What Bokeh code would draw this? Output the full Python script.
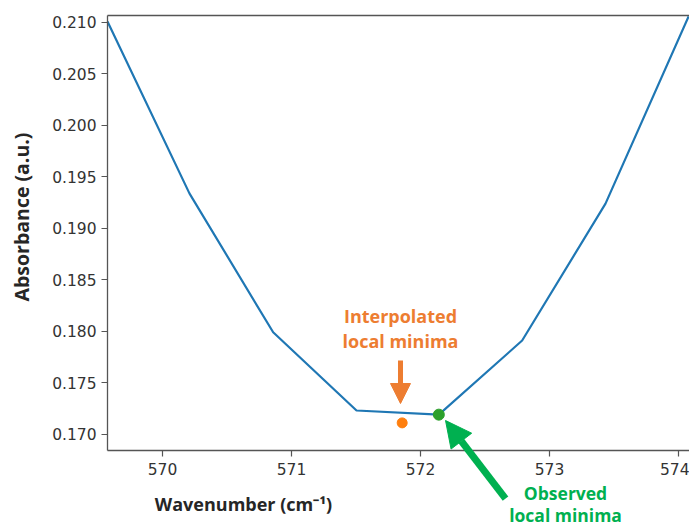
import math
from bokeh.plotting import figure
from bokeh.models import Range1d, Label, Arrow, NormalHead, FixedTicker, LinearAxis
from bokeh.embed import file_html
from bokeh.resources import INLINE

# ---- data ----
wavenumber = [569.574, 570.209, 570.858, 571.504, 572.142, 572.788, 573.434, 574.078]
absorbance = [0.2101, 0.1934, 0.1799, 0.1723, 0.1719, 0.1791, 0.1924, 0.2106]
interp_min_x = [571.858]
interp_min_y = [0.1711]
obs_min_x = [572.142]
obs_min_y = [0.1719]
x_ticks = [570, 571, 572, 573, 574]
y_ticks = [0.170, 0.175, 0.180, 0.185, 0.190, 0.195, 0.200, 0.205, 0.210]

# plotting-area limits (data)
XMIN, XMAX = 569.574, 574.085
YMIN, YMAX = 0.168416, 0.210680
# margins around the plotting area, in px
ML, MR, MT, MB = 107, 0, 15, 78
W, H = 689, 528
kx = (XMAX - XMIN) / (W - ML - MR)
ky = (YMAX - YMIN) / (H - MT - MB)

p = figure(width=W, height=H, output_backend="svg", toolbar_location=None,
           x_range=Range1d(XMIN - ML * kx, XMAX + MR * kx),
           y_range=Range1d(YMIN - MB * ky, YMAX + MT * ky),
           x_axis_location=None, y_axis_location=None,
           min_border=0)
p.outline_line_color = None
p.grid.visible = False
p.background_fill_color = "white"
p.border_fill_color = "white"

xax = LinearAxis(fixed_location=YMIN, bounds=(XMIN, XMAX), ticker=FixedTicker(ticks=x_ticks))
yax = LinearAxis(fixed_location=XMIN, bounds=(YMIN, YMAX), ticker=FixedTicker(ticks=y_ticks))
tax = LinearAxis(fixed_location=YMAX, bounds=(XMIN, XMAX), ticker=FixedTicker(ticks=[]))
for ax in (xax, yax, tax):
    ax.axis_line_color = "#555555"
    ax.axis_line_width = 1.3
    ax.major_tick_line_color = "#555555"
    ax.major_tick_line_width = 1.2
    ax.major_tick_out = 6
    ax.major_tick_in = 0
    ax.minor_tick_line_color = None
    ax.major_label_text_font = "DejaVu Sans"
    ax.major_label_text_font_size = "15.5px"
    ax.major_label_text_color = "#333333"
xax.major_label_standoff = 6
yax.major_label_standoff = 5
yax.major_label_overrides = {t: f"{t:.3f}" for t in y_ticks}
tax.major_tick_line_color = None
p.add_layout(xax, "below")
p.add_layout(yax, "left")
p.add_layout(tax, "above")

p.line(wavenumber, absorbance, line_color="#1f77b4", line_width=2.2)
p.scatter(interp_min_x, interp_min_y, size=10, color="#ff7f0e")
p.scatter(obs_min_x, obs_min_y, size=11, color="#2ca02c")

ORANGE = "#ED7D31"
GREEN = "#00B050"
FONT = "Open Sans"

def lab(x, y, text, color, size="18px", angle=0.0):
    p.add_layout(Label(x=x, y=y, text=text, text_color=color, text_font=FONT,
                       text_font_style="bold", text_font_size=size,
                       text_align="center", text_baseline="middle", angle=angle))

lab(571.845, 0.18153, "Interpolated", ORANGE)
lab(571.845, 0.17910, "local minima", ORANGE)
lab(573.124, 0.16433, "Observed", GREEN, size="17.5px")
lab(573.124, 0.16215, "local minima", GREEN, size="17.5px")

p.add_layout(Arrow(x_start=571.845, y_start=0.17716, x_end=571.845, y_end=0.17298,
                   line_color=ORANGE, line_width=5,
                   end=NormalHead(size=20, fill_color=ORANGE, line_color=ORANGE, line_width=1)))
p.add_layout(Arrow(x_start=572.659, y_start=0.16375, x_end=572.194, y_end=0.17133,
                   line_color=GREEN, line_width=7,
                   end=NormalHead(size=26, fill_color=GREEN, line_color=GREEN, line_width=1)))

# axis titles
lab(570.628, 0.16317, "Wavenumber (cm⁻¹)", "#262626", size="18px")
lab(568.905, 0.19110, "Absorbance (a.u.)", "#262626", size="19.5px", angle=math.pi / 2)

open("out.html", "w").write(file_html(p, INLINE))
